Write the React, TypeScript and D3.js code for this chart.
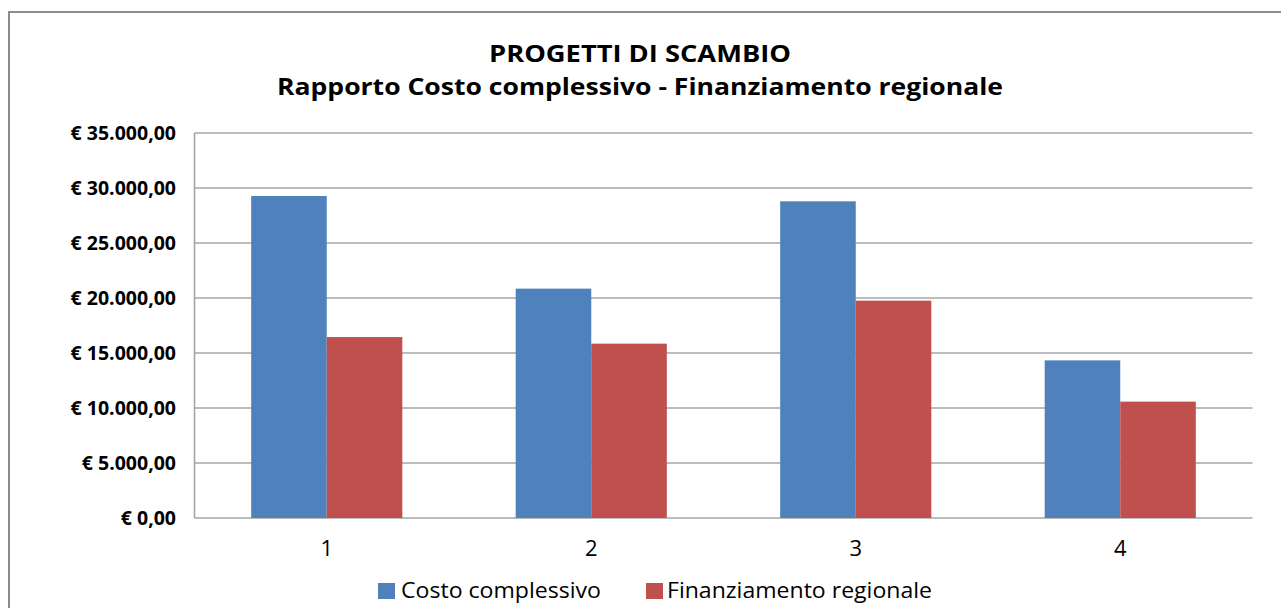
import React from "react";
import * as d3 from "d3";

const categories = ["1", "2", "3", "4"];
const seriesNames = ["Costo complessivo", "Finanziamento regionale"];
const costoComplessivo = [29270, 20850, 28790, 14330];
const finanziamentoRegionale = [16450, 15850, 19760, 10580];
const yTicks = [0, 5000, 10000, 15000, 20000, 25000, 30000, 35000];
const titleLines = ["PROGETTI DI SCAMBIO", "Rapporto Costo complessivo - Finanziamento regionale"];
const colors = ["#4F81BD", "#C0504D"];

const W = 1281;
const H = 608;
const FONT = "'Open Sans', Lato, sans-serif";

const locale = d3.formatLocale({
  decimal: ",",
  thousands: ".",
  grouping: [3],
  currency: ["€ ", ""],
});
const fmt = locale.format("$,.2f");

export default function App() {
  const left = 194.5;
  const right = 1252.5;
  const top = 133;
  const bottom = 518;

  const x0 = d3
    .scaleBand<string>()
    .domain(categories)
    .range([left, right])
    .paddingInner(0.4286)
    .paddingOuter(0.2143);
  const x1 = d3.scaleBand<string>().domain(seriesNames).range([0, x0.bandwidth()]);
  const y = d3.scaleLinear().domain([0, 35000]).range([bottom, top]);

  const values = [costoComplessivo, finanziamentoRegionale];
  const titleWidths = [302, 726];
  const legend = [
    { sq: 378, tx: 401, len: 200 },
    { sq: 646, tx: 667, len: 265 },
  ];

  return (
    <svg
      width={W}
      height={H}
      style={{ position: "absolute", left: 0, top: 0, background: "#fff" }}
      fontFamily={FONT}
    >
      <rect x={0} y={0} width={W} height={H} fill="#fff" />
      <rect x={9} y={12} width={W + 20} height={H + 20} fill="#fff" stroke="#8c8c8c" strokeWidth={2} />

      {titleLines.map((t, i) => (
        <text
          key={i}
          x={640}
          y={62 + i * 33}
          textAnchor="middle"
          fontWeight="bold"
          fontSize={24}
          fill="#000"
          textLength={titleWidths[i]}
          lengthAdjust="spacingAndGlyphs"
        >
          {t}
        </text>
      ))}

      {yTicks.map((t) => (
        <g key={t}>
          <line x1={left} x2={right} y1={y(t)} y2={y(t)} stroke="#a6a6a6" strokeWidth={1.6} />
          <text
            x={176}
            y={y(t)}
            dy="0.36em"
            textAnchor="end"
            fontWeight="bold"
            fontSize={19.5}
            fill="#000"
          >
            {fmt(t)}
          </text>
        </g>
      ))}
      <line x1={left} x2={left} y1={top} y2={bottom} stroke="#a6a6a6" strokeWidth={1.6} />

      {categories.map((c, ci) => (
        <g key={c}>
          {seriesNames.map((s, si) => {
            const v = values[si][ci];
            const bx = (x0(c) as number) + (x1(s) as number);
            return (
              <rect
                key={s}
                x={bx}
                y={y(v)}
                width={x1.bandwidth()}
                height={y(0) - y(v)}
                fill={colors[si]}
              />
            );
          })}
          <text
            x={(x0(c) as number) + x0.bandwidth() / 2}
            y={556}
            textAnchor="middle"
            fontSize={22}
            fill="#000"
          >
            {c}
          </text>
        </g>
      ))}

      {seriesNames.map((s, si) => (
        <g key={s}>
          <rect x={legend[si].sq} y={583} width={17} height={16} fill={colors[si]} />
          <text
            x={legend[si].tx}
            y={598}
            fontSize={22}
            fill="#000"
            textLength={legend[si].len}
            lengthAdjust="spacingAndGlyphs"
          >
            {s}
          </text>
        </g>
      ))}
    </svg>
  );
}
